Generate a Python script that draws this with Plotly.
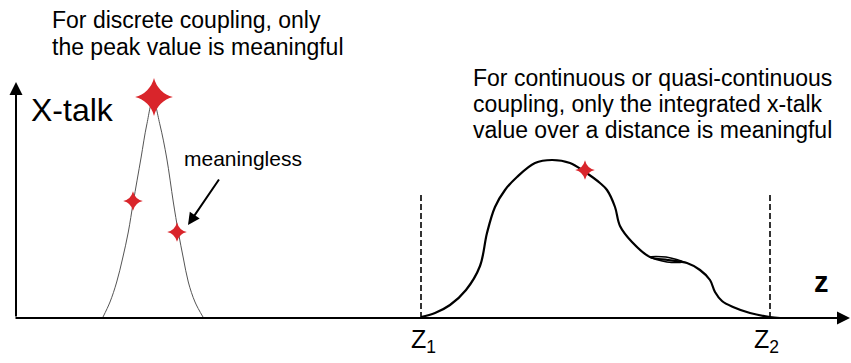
"""Schematic: discrete vs continuous crosstalk coupling."""

import plotly.graph_objects as go

# Pixel-like coordinates: x along z, y height above the z axis
peak_x = [103, 110, 116.7, 122.7, 128.3, 133.3, 141, 146.7, 153,
          160, 166.7, 173.3, 178.3, 183.3, 188.3, 195, 203]
peak_y = [1, 16, 36, 60, 86, 116, 160, 193, 218,
          193, 160, 116, 86, 60, 36, 16, 1]

star_big_x = [154]
star_big_y = [221]
star_small_x = [133, 177, 585]
star_small_y = [117, 86, 148]

cont_x = [421, 435, 450, 466, 480, 487, 495, 505, 517, 535, 552, 570, 585, 600, 607,
          615, 620, 632, 650, 668, 687, 700, 710, 715, 722, 733, 750, 770, 780]
cont_y = [1, 5, 13, 28, 52, 85, 111, 128, 141, 155, 158, 155, 146, 135, 128,
          111, 92, 76, 61, 58, 55, 48, 38, 26, 17, 11, 5, 1, 0]

loop_x = [650, 666, 683, 667, 650]
loop_y = [61, 61, 56, 56, 61]

z_marks = [421, 770]
z_mark_top = 126

fig = go.Figure()

fig.add_trace(go.Scatter(
    x=peak_x, y=peak_y, mode="lines", line_shape="spline",
    line=dict(color="#555555", width=1),
))
fig.add_trace(go.Scatter(
    x=cont_x, y=cont_y, mode="lines", line_shape="spline",
    line=dict(color="black", width=2.2),
))
fig.add_trace(go.Scatter(
    x=loop_x, y=loop_y, mode="lines", line_shape="spline",
    line=dict(color="black", width=1.5),
))
for zx in z_marks:
    fig.add_trace(go.Scatter(
        x=[zx, zx], y=[0, z_mark_top], mode="lines",
        line=dict(color="black", width=1.6, dash="6px,3px"),
    ))
fig.add_trace(go.Scatter(
    x=star_big_x, y=star_big_y, mode="markers",
    marker=dict(symbol="star-diamond", size=27, color="#d9252b", line_width=0),
))
fig.add_trace(go.Scatter(
    x=star_small_x, y=star_small_y, mode="markers",
    marker=dict(symbol="star-diamond", size=14, color="#d9252b", line_width=0),
))

font = "Liberation Sans, Arial, sans-serif"
arrow = dict(xref="x", yref="y", axref="x", ayref="y", text="", showarrow=True,
             arrowhead=2, arrowcolor="black", standoff=0)
fig.add_annotation(x=850, y=0, ax=14, ay=0, arrowwidth=2, arrowsize=1.3, **arrow)
fig.add_annotation(x=16, y=236, ax=16, ay=0, arrowwidth=2, arrowsize=1.3, **arrow)
fig.add_annotation(x=188, y=93, ax=220, ay=140, arrowwidth=2, arrowsize=1.2, **arrow)

texts = [
    (50, 20, "For discrete coupling, only", 23),
    (50, 47, "the peak value is meaningful", 23),
    (29, 110, "X-talk", 32),
    (182, 158, "meaningless", 21),
    (471, 78, "For continuous or quasi-continuous", 23),
    (471, 104, "coupling, only the integrated x-talk", 23),
    (471, 130, "value over a distance is meaningful", 23),
    (812, 282, "<b>z</b>", 29),
    (409, 341, "Z<sub>1</sub>", 25),
    (752, 341, "Z<sub>2</sub>", 25),
]
for tx, ty, label, size in texts:
    fig.add_annotation(
        x=tx, y=318 - ty, xref="x", yref="y", text=label, showarrow=False,
        xanchor="left", yanchor="middle",
        font=dict(family=font, size=size, color="black"),
    )

fig.update_layout(
    width=851, height=363,
    margin=dict(l=0, r=0, t=0, b=0),
    paper_bgcolor="white", plot_bgcolor="white",
    showlegend=False,
    xaxis=dict(range=[0, 851], visible=False, fixedrange=True),
    yaxis=dict(range=[-45, 318], visible=False, fixedrange=True),
)

fig.write_html(
    "out.html",
    config={"displayModeBar": False},
    post_script="document.body.style.margin = '0';",
)
